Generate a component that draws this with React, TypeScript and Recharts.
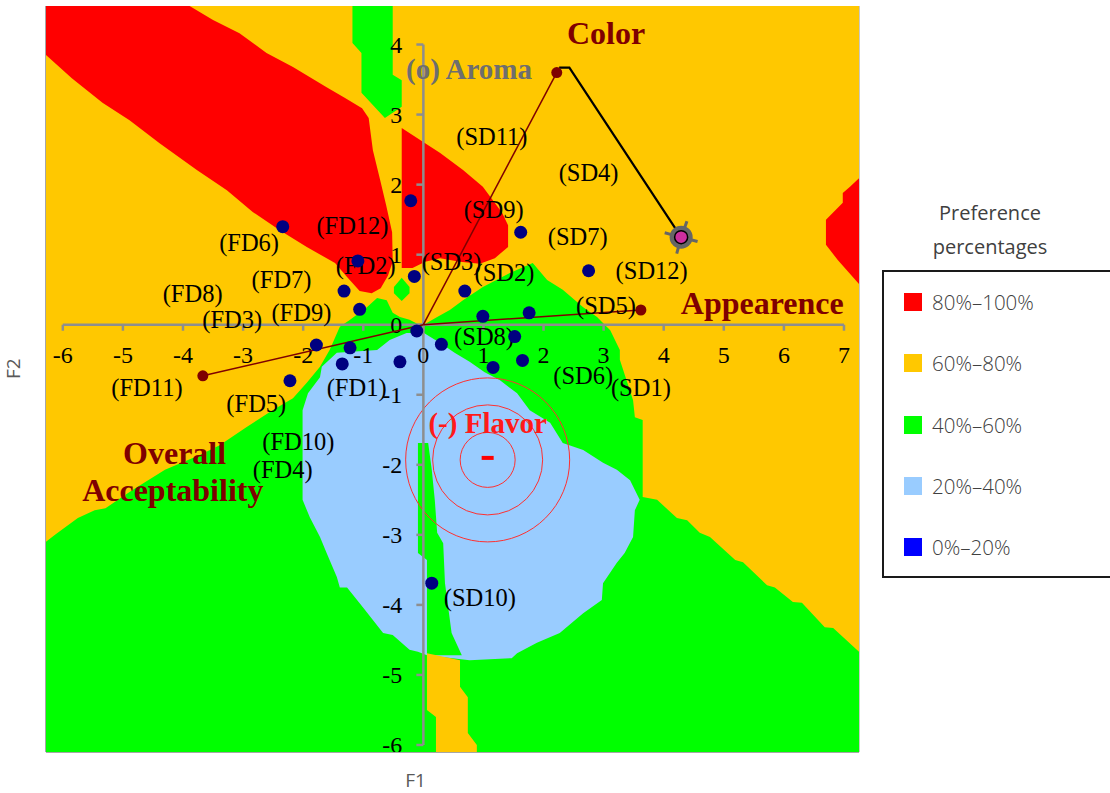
import { ComposedChart, Scatter, XAxis, YAxis, Legend, ReferenceLine } from 'recharts';

type Pt = [number, number];

const X_DOMAIN: [number, number] = [-6.28, 7.25];
const Y_DOMAIN: [number, number] = [-6.1, 4.55];
const X_TICKS = [-6, -5, -4, -3, -2, -1, 0, 1, 2, 3, 4, 5, 6, 7];
const Y_TICKS = [-6, -5, -4, -3, -2, -1, 0, 1, 2, 3, 4];

const LEGEND_TITLE = ['Preference', 'percentages'];
const LEGEND_LABELS = ['80%–100%', '60%–80%', '40%–60%', '20%–40%', '0%–20%'];
const LEGEND_COLORS = ['#ff0000', '#ffc800', '#00ff00', '#99ccff', '#0000ff'];

// preference zones in (F1, F2) units
const WHOLE_MAP: Pt[] = [[-6.28, 4.55], [7.25, 4.55], [7.25, -6.1], [-6.28, -6.1]];

const GREEN_LOW: Pt[] = [
  [-6.28, -6.1], [-6.28, -3.1], [-6.13, -3.0], [-5.75, -2.76], [-5.47, -2.65], [-5.29, -2.62],
  [-4.84, -2.36], [-4.3, -2.07], [-3.72, -1.86], [-3.39, -1.72], [-2.94, -1.46], [-2.51, -1.22],
  [-2.17, -1.05], [-1.94, -0.83], [-1.72, -0.6], [-1.56, -0.36], [-1.39, -0.03], [-1.22, 0.07],
  [-0.94, 0.25], [-0.77, 0.38], [-0.61, 0.35], [-0.51, 0.17], [-0.39, 0.11], [-0.23, 0.07],
  [-0.03, -0.02], [0.23, 0.11], [0.44, 0.21], [0.66, 0.35], [0.99, 0.54], [1.44, 0.74],
  [1.82, 0.88], [2.06, 0.64], [2.32, 0.5], [2.66, 0.25], [2.89, 0.11], [3.11, -0.08],
  [3.27, -0.36], [3.27, -0.5], [3.49, -1.08], [3.52, -1.32], [3.65, -1.36], [3.65, -2.46],
  [3.89, -2.5], [4.22, -2.76], [4.39, -2.79], [4.6, -2.97], [4.77, -3.03], [5.19, -3.36],
  [5.32, -3.39], [5.72, -3.72], [5.85, -3.75], [6.15, -3.96], [6.3, -3.97], [6.68, -4.32],
  [6.82, -4.33], [7.25, -4.67], [7.25, -6.1],
];

const BLUE_CORE: Pt[] = [
  [-2.01, -1.22], [-1.92, -0.98], [-1.72, -0.75], [-1.69, -0.6], [-1.44, -0.4], [-0.77, -0.36],
  [-0.56, -0.22], [-0.28, -0.12], [0.01, -0.12], [0.28, -0.26], [0.52, -0.4], [0.77, -0.53],
  [1.02, -0.68], [1.27, -0.79], [1.56, -0.98], [1.77, -1.22], [2.11, -1.4], [2.32, -1.69],
  [2.66, -1.79], [2.99, -1.97], [3.22, -2.07], [3.44, -2.22], [3.6, -2.5], [3.52, -2.65],
  [3.49, -3.03], [3.35, -3.26], [3.22, -3.4], [2.99, -3.69], [2.97, -3.93], [2.66, -4.12],
  [2.27, -4.4], [1.89, -4.54], [1.56, -4.69], [1.47, -4.76], [0.77, -4.79], [0.06, -4.72],
  [-0.09, -4.67], [-0.23, -4.64], [-0.51, -4.43], [-0.67, -4.4], [-1.01, -4.03], [-1.27, -3.75],
  [-1.39, -3.75], [-1.44, -3.6], [-1.61, -3.26], [-1.72, -3.03], [-1.89, -2.75], [-2.01, -2.5],
];

const GREEN_STRIP: Pt[] = [
  [-0.09, -1.69], [0.08, -1.69], [0.14, -2.07], [0.19, -2.5], [0.23, -2.97], [0.33, -3.12],
  [0.36, -3.69], [0.47, -4.4], [0.64, -4.72], [0.06, -4.72], [0.06, -3.36], [-0.09, -3.26],
];

const ORANGE_STRIP: Pt[] = [
  [0.06, -4.69], [0.61, -4.79], [0.61, -5.17], [0.74, -5.32], [0.74, -5.83], [0.89, -6.0],
  [0.89, -6.1], [0.21, -6.1], [0.21, -5.6], [0.06, -5.5],
];

const RED_BAND: Pt[] = [
  [-6.28, 4.55], [-3.89, 4.55], [-3.5, 4.35], [-3.06, 4.16], [-2.61, 3.88], [-2.17, 3.68],
  [-1.61, 3.39], [-1.31, 3.24], [-1.02, 3.09], [-0.91, 2.95], [-0.84, 2.49], [-0.72, 2.07],
  [-0.62, 1.71], [-0.52, 1.32], [-0.51, 0.9], [-0.59, 0.7], [-0.71, 0.52], [-0.86, 0.45],
  [-1.06, 0.48], [-1.27, 0.68], [-1.47, 0.88], [-1.94, 1.11], [-2.39, 1.35], [-2.84, 1.61],
  [-3.27, 1.92], [-3.77, 2.21], [-4.39, 2.59], [-4.89, 2.92], [-5.34, 3.17], [-5.85, 3.52],
  [-6.28, 3.85],
];

const RED_CENTRE: Pt[] = [
  [-0.36, 2.81], [0.03, 2.59], [0.28, 2.45], [0.66, 2.21], [0.99, 1.97], [1.31, 1.6],
  [1.41, 1.42], [1.41, 1.11], [1.19, 0.95], [0.94, 0.87], [0.61, 0.9], [0.28, 0.95],
  [0.03, 0.9], [-0.18, 0.81], [-0.36, 0.81],
];

const RED_EDGE: Pt[] = [
  [7.25, 2.09], [7.1, 1.97], [6.98, 1.88], [6.98, 1.74], [6.7, 1.5], [6.7, 1.14], [6.9, 0.92], [7.25, 0.58],
];

const GREEN_TOP: Pt[] = [
  [-1.18, 4.55], [-0.51, 4.55], [-0.51, 3.57], [-0.36, 3.49], [-0.36, 3.11], [-0.64, 2.95],
  [-1.03, 3.31], [-1.03, 3.88], [-1.18, 4.02],
];

const GREEN_SPOT: Pt[] = [
  [-0.36, 0.67], [-0.23, 0.54], [-0.23, 0.45], [-0.36, 0.34], [-0.49, 0.45], [-0.49, 0.54],
];

// band = index into LEGEND_COLORS, painted in this order
const ZONES = [
  { band: 1, pts: WHOLE_MAP },
  { band: 2, pts: GREEN_LOW },
  { band: 3, pts: BLUE_CORE },
  { band: 2, pts: GREEN_STRIP },
  { band: 1, pts: ORANGE_STRIP },
  { band: 0, pts: RED_BAND },
  { band: 0, pts: RED_CENTRE },
  { band: 0, pts: RED_EDGE },
  { band: 2, pts: GREEN_TOP },
  { band: 2, pts: GREEN_SPOT },
];

// products (F1, F2)
const SAMPLE_X = [-0.21, -2.34, -1.09, -1.32, -0.15, 0.69, -1.06, 1.62, 0.99, 1.76, -0.11,
  -1.78, -1.22, -1.35, -0.39, 0.3, 1.52, 1.65, 1.16, -2.22, 2.75, 0.14];
const SAMPLE_Y = [1.77, 1.4, 0.91, 0.48, 0.69, 0.48, 0.22, 1.32, 0.12, 0.17, -0.09,
  -0.29, -0.33, -0.56, -0.53, -0.28, -0.17, -0.51, -0.61, -0.8, 0.77, -3.69];

const SAMPLE_LABELS = [
  { name: '(FD6)', x: -2.9, y: 1.17 },
  { name: '(FD12)', x: -1.18, y: 1.41 },
  { name: '(FD2)', x: -0.96, y: 0.85 },
  { name: '(FD7)', x: -2.36, y: 0.64 },
  { name: '(FD8)', x: -3.84, y: 0.45 },
  { name: '(FD9)', x: -2.03, y: 0.17 },
  { name: '(FD3)', x: -3.18, y: 0.07 },
  { name: '(FD11)', x: -4.6, y: -0.89 },
  { name: '(FD5)', x: -2.78, y: -1.12 },
  { name: '(FD10)', x: -2.08, y: -1.67 },
  { name: '(FD4)', x: -2.34, y: -2.07 },
  { name: '(FD1)', x: -1.11, y: -0.89 },
  { name: '(SD11)', x: 1.14, y: 2.68 },
  { name: '(SD4)', x: 2.75, y: 2.17 },
  { name: '(SD9)', x: 1.17, y: 1.64 },
  { name: '(SD7)', x: 2.57, y: 1.26 },
  { name: '(SD3)', x: 0.47, y: 0.9 },
  { name: '(SD2)', x: 1.35, y: 0.74 },
  { name: '(SD12)', x: 3.8, y: 0.78 },
  { name: '(SD5)', x: 3.04, y: 0.28 },
  { name: '(SD8)', x: 1.01, y: -0.17 },
  { name: '(SD6)', x: 2.66, y: -0.72 },
  { name: '(SD1)', x: 3.62, y: -0.89 },
  { name: '(SD10)', x: 0.94, y: -3.9 },
];

// attribute vectors from the origin
const ATTR_NAMES = ['Color', 'Appearence', 'Overall Acceptability'];
const ATTR_X = [2.22, 3.62, -3.67];
const ATTR_Y = [3.6, 0.21, -0.73];

const ATTR_LABELS = [
  { name: 'Color', x: 3.04, y: 4.16 },
  { name: 'Appearence', x: 5.64, y: 0.31 },
  { name: 'Overall', x: -4.14, y: -1.83 },
  { name: 'Acceptability', x: -4.17, y: -2.36 },
];
const AROMA_LABEL = [{ name: '(o) Aroma', x: 0.76, y: 3.65 }];
const FLAVOR_LABEL = [{ name: '(-) Flavor', x: 1.07, y: -1.4 }];

const IDEAL_PATH: Pt[] = [[2.26, 3.67], [2.43, 3.67], [4.29, 1.25]];
const IDEAL_POINT: Pt = [4.29, 1.25];
const FLAVOR_CENTER: Pt = [1.07, -1.93];

const SERIF = "'Liberation Serif', 'Times New Roman', serif";
const SANS = "'Open Sans', 'Noto Sans', sans-serif";
const AXIS_GRAY = '#8e8e8e';
const MAROON = '#7f0000';

const toPoints = (pts: Pt[]) => pts.map(([x, y]) => ({ x, y }));
const noDot = () => <g />;

const polygonLine = (fill: string) => (props: any) => (
  <polygon
    points={(props.points || []).map((p: any) => `${p.x},${p.y}`).join(' ')}
    fill={fill}
    stroke="none"
  />
);

const textShape = (style: any) => (p: any) => (
  <text x={p.cx} y={p.cy} textAnchor="middle" dominantBaseline="central" style={style}>
    {p.payload?.name ?? p.name}
  </text>
);

const xTickShape = (p: any) => (
  <g>
    <line x1={p.cx} y1={p.cy} x2={p.cx} y2={p.cy + 6} stroke={AXIS_GRAY} strokeWidth={2.5} />
    <text x={p.cx} y={p.cy + 30} textAnchor="middle" dominantBaseline="central"
      style={{ fontFamily: SERIF, fontSize: 24, fill: '#000' }}>
      {p.payload?.x ?? p.x}
    </text>
  </g>
);

const yTickShape = (p: any) => (
  <g>
    <line x1={p.cx - 7} y1={p.cy} x2={p.cx} y2={p.cy} stroke={AXIS_GRAY} strokeWidth={2.5} />
    <text x={p.cx - 21} y={p.cy} textAnchor="end" dominantBaseline="central"
      style={{ fontFamily: SERIF, fontSize: 24, fill: '#000' }}>
      {p.payload?.y ?? p.y}
    </text>
  </g>
);

const flavorShape = (p: any) => (
  <g>
    {[27.5, 55, 82].map((r) => (
      <circle key={r} cx={p.cx} cy={p.cy} r={r} fill="none" stroke="#ff3030" strokeWidth={1} />
    ))}
    <rect x={p.cx - 6} y={p.cy - 4} width={12} height={4} fill="#ff0000" />
  </g>
);

const idealShape = (p: any) => (
  <g>
    {[-70, 15, 105, 195].map((a) => {
      const r = (a * Math.PI) / 180;
      return (
        <line key={a}
          x1={p.cx + 9 * Math.cos(r)} y1={p.cy + 9 * Math.sin(r)}
          x2={p.cx + 17 * Math.cos(r)} y2={p.cy + 17 * Math.sin(r)}
          stroke="#666" strokeWidth={3} />
      );
    })}
    <circle cx={p.cx} cy={p.cy} r={11.5} fill="#666" />
    <circle cx={p.cx} cy={p.cy} r={6.5} fill="#cc2e9e" stroke="#000" strokeWidth={1.5} />
  </g>
);

const renderLegend = () => (
  <div style={{ position: 'relative', width: 240, height: 400, fontFamily: SANS, color: '#404040' }}>
    <div style={{ position: 'absolute', left: 0, top: 6, width: 240, textAlign: 'center', fontSize: 20, lineHeight: '34px' }}>
      {LEGEND_TITLE.map((t) => <div key={t}>{t}</div>)}
    </div>
    <div style={{ position: 'absolute', left: 12, top: 80, width: 228, height: 304, border: '2px solid #1a1a1a', borderRight: 'none' }}>
      {LEGEND_LABELS.map((label, i) => (
        <div key={label} style={{ position: 'absolute', left: 20, top: 18 + i * 61.3, height: 24, display: 'flex', alignItems: 'center', whiteSpace: 'nowrap' }}>
          <span style={{ display: 'inline-block', width: 18, height: 18, background: LEGEND_COLORS[i], marginRight: 10 }} />
          <span style={{ fontSize: 20.5, fontWeight: 300 }}>{label}</span>
        </div>
      ))}
    </div>
  </div>
);

export default function App() {
  const samples = SAMPLE_X.map((x, i) => ({ x, y: SAMPLE_Y[i] }));
  const attrEnds = ATTR_X.map((x, i) => ({ x, y: ATTR_Y[i], name: ATTR_NAMES[i] }));

  return (
    <div style={{ position: 'absolute', left: 0, top: 0, width: 1110, height: 793, overflow: 'hidden', background: '#fff' }}>
      <ComposedChart width={1110} height={793} margin={{ top: 6, right: 251, bottom: 0, left: 0 }}>
        <XAxis
          type="number"
          dataKey="x"
          domain={X_DOMAIN}
          allowDataOverflow
          height={41}
          tick={false}
          tickLine={false}
          axisLine={{ stroke: '#a6a6a6', strokeWidth: 2 }}
          label={{ value: 'F1', position: 'insideBottom', offset: 6, dx: -37, fill: '#595959', fontSize: 19, fontFamily: SANS }}
        />
        <YAxis
          type="number"
          dataKey="y"
          domain={Y_DOMAIN}
          allowDataOverflow
          width={46}
          tick={false}
          tickLine={false}
          axisLine={{ stroke: '#a6a6a6', strokeWidth: 2 }}
          label={{ value: 'F2', angle: -90, position: 'insideLeft', offset: 17, dx: -4, fill: '#595959', fontSize: 19, fontFamily: SANS }}
        />
        <ReferenceLine x={X_DOMAIN[1]} stroke="#c8c8c8" strokeWidth={2} />
        <Legend
          layout="horizontal"
          verticalAlign="middle"
          align="center"
          wrapperStyle={{ left: 870, top: 190, width: 240, height: 400 }}
          content={renderLegend}
        />

        {ZONES.map((z, i) => (
          <Scatter key={`zone-${i}`} data={toPoints(z.pts)} line={polygonLine(LEGEND_COLORS[z.band])}
            shape={noDot} legendType="none" isAnimationActive={false} />
        ))}

        <Scatter data={toPoints([FLAVOR_CENTER])} shape={flavorShape} legendType="none" isAnimationActive={false} />

        <Scatter data={[{ x: X_TICKS[0], y: 0 }, { x: X_TICKS[X_TICKS.length - 1], y: 0 }]}
          line={{ stroke: AXIS_GRAY, strokeWidth: 2.5 }} shape={noDot} legendType="none" isAnimationActive={false} />
        <Scatter data={[{ x: 0, y: Y_TICKS[0] }, { x: 0, y: Y_TICKS[Y_TICKS.length - 1] }]}
          line={{ stroke: AXIS_GRAY, strokeWidth: 2.5 }} shape={noDot} legendType="none" isAnimationActive={false} />
        <Scatter data={X_TICKS.map((x) => ({ x, y: 0 }))} shape={xTickShape} legendType="none" isAnimationActive={false} />
        <Scatter data={Y_TICKS.map((y) => ({ x: 0, y }))} shape={yTickShape} legendType="none" isAnimationActive={false} />

        {attrEnds.map((a) => (
          <Scatter key={`vec-${a.name}`} data={[{ x: 0, y: 0 }, { x: a.x, y: a.y }]}
            line={{ stroke: MAROON, strokeWidth: 1.5 }} shape={noDot} legendType="none" isAnimationActive={false} />
        ))}
        <Scatter data={toPoints(IDEAL_PATH)} line={{ stroke: '#000', strokeWidth: 2.2 }}
          shape={noDot} legendType="none" isAnimationActive={false} />

        <Scatter data={SAMPLE_LABELS} legendType="none" isAnimationActive={false}
          shape={textShape({ fontFamily: SERIF, fontSize: 24.5, fill: '#000' })} />
        <Scatter data={samples} legendType="none" isAnimationActive={false}
          shape={(p: any) => <circle cx={p.cx} cy={p.cy} r={6.5} fill="#000080" />} />
        <Scatter data={attrEnds} legendType="none" isAnimationActive={false}
          shape={(p: any) => <circle cx={p.cx} cy={p.cy} r={5.5} fill={MAROON} />} />
        <Scatter data={toPoints([IDEAL_POINT])} shape={idealShape} legendType="none" isAnimationActive={false} />

        <Scatter data={ATTR_LABELS} legendType="none" isAnimationActive={false}
          shape={textShape({ fontFamily: SERIF, fontSize: 32, fontWeight: 700, fill: MAROON })} />
        <Scatter data={AROMA_LABEL} legendType="none" isAnimationActive={false}
          shape={textShape({ fontFamily: SERIF, fontSize: 29, fontWeight: 700, fill: '#6e6e6e' })} />
        <Scatter data={FLAVOR_LABEL} legendType="none" isAnimationActive={false}
          shape={textShape({ fontFamily: SERIF, fontSize: 29, fontWeight: 700, fill: '#ff1a1a' })} />
      </ComposedChart>
    </div>
  );
}
